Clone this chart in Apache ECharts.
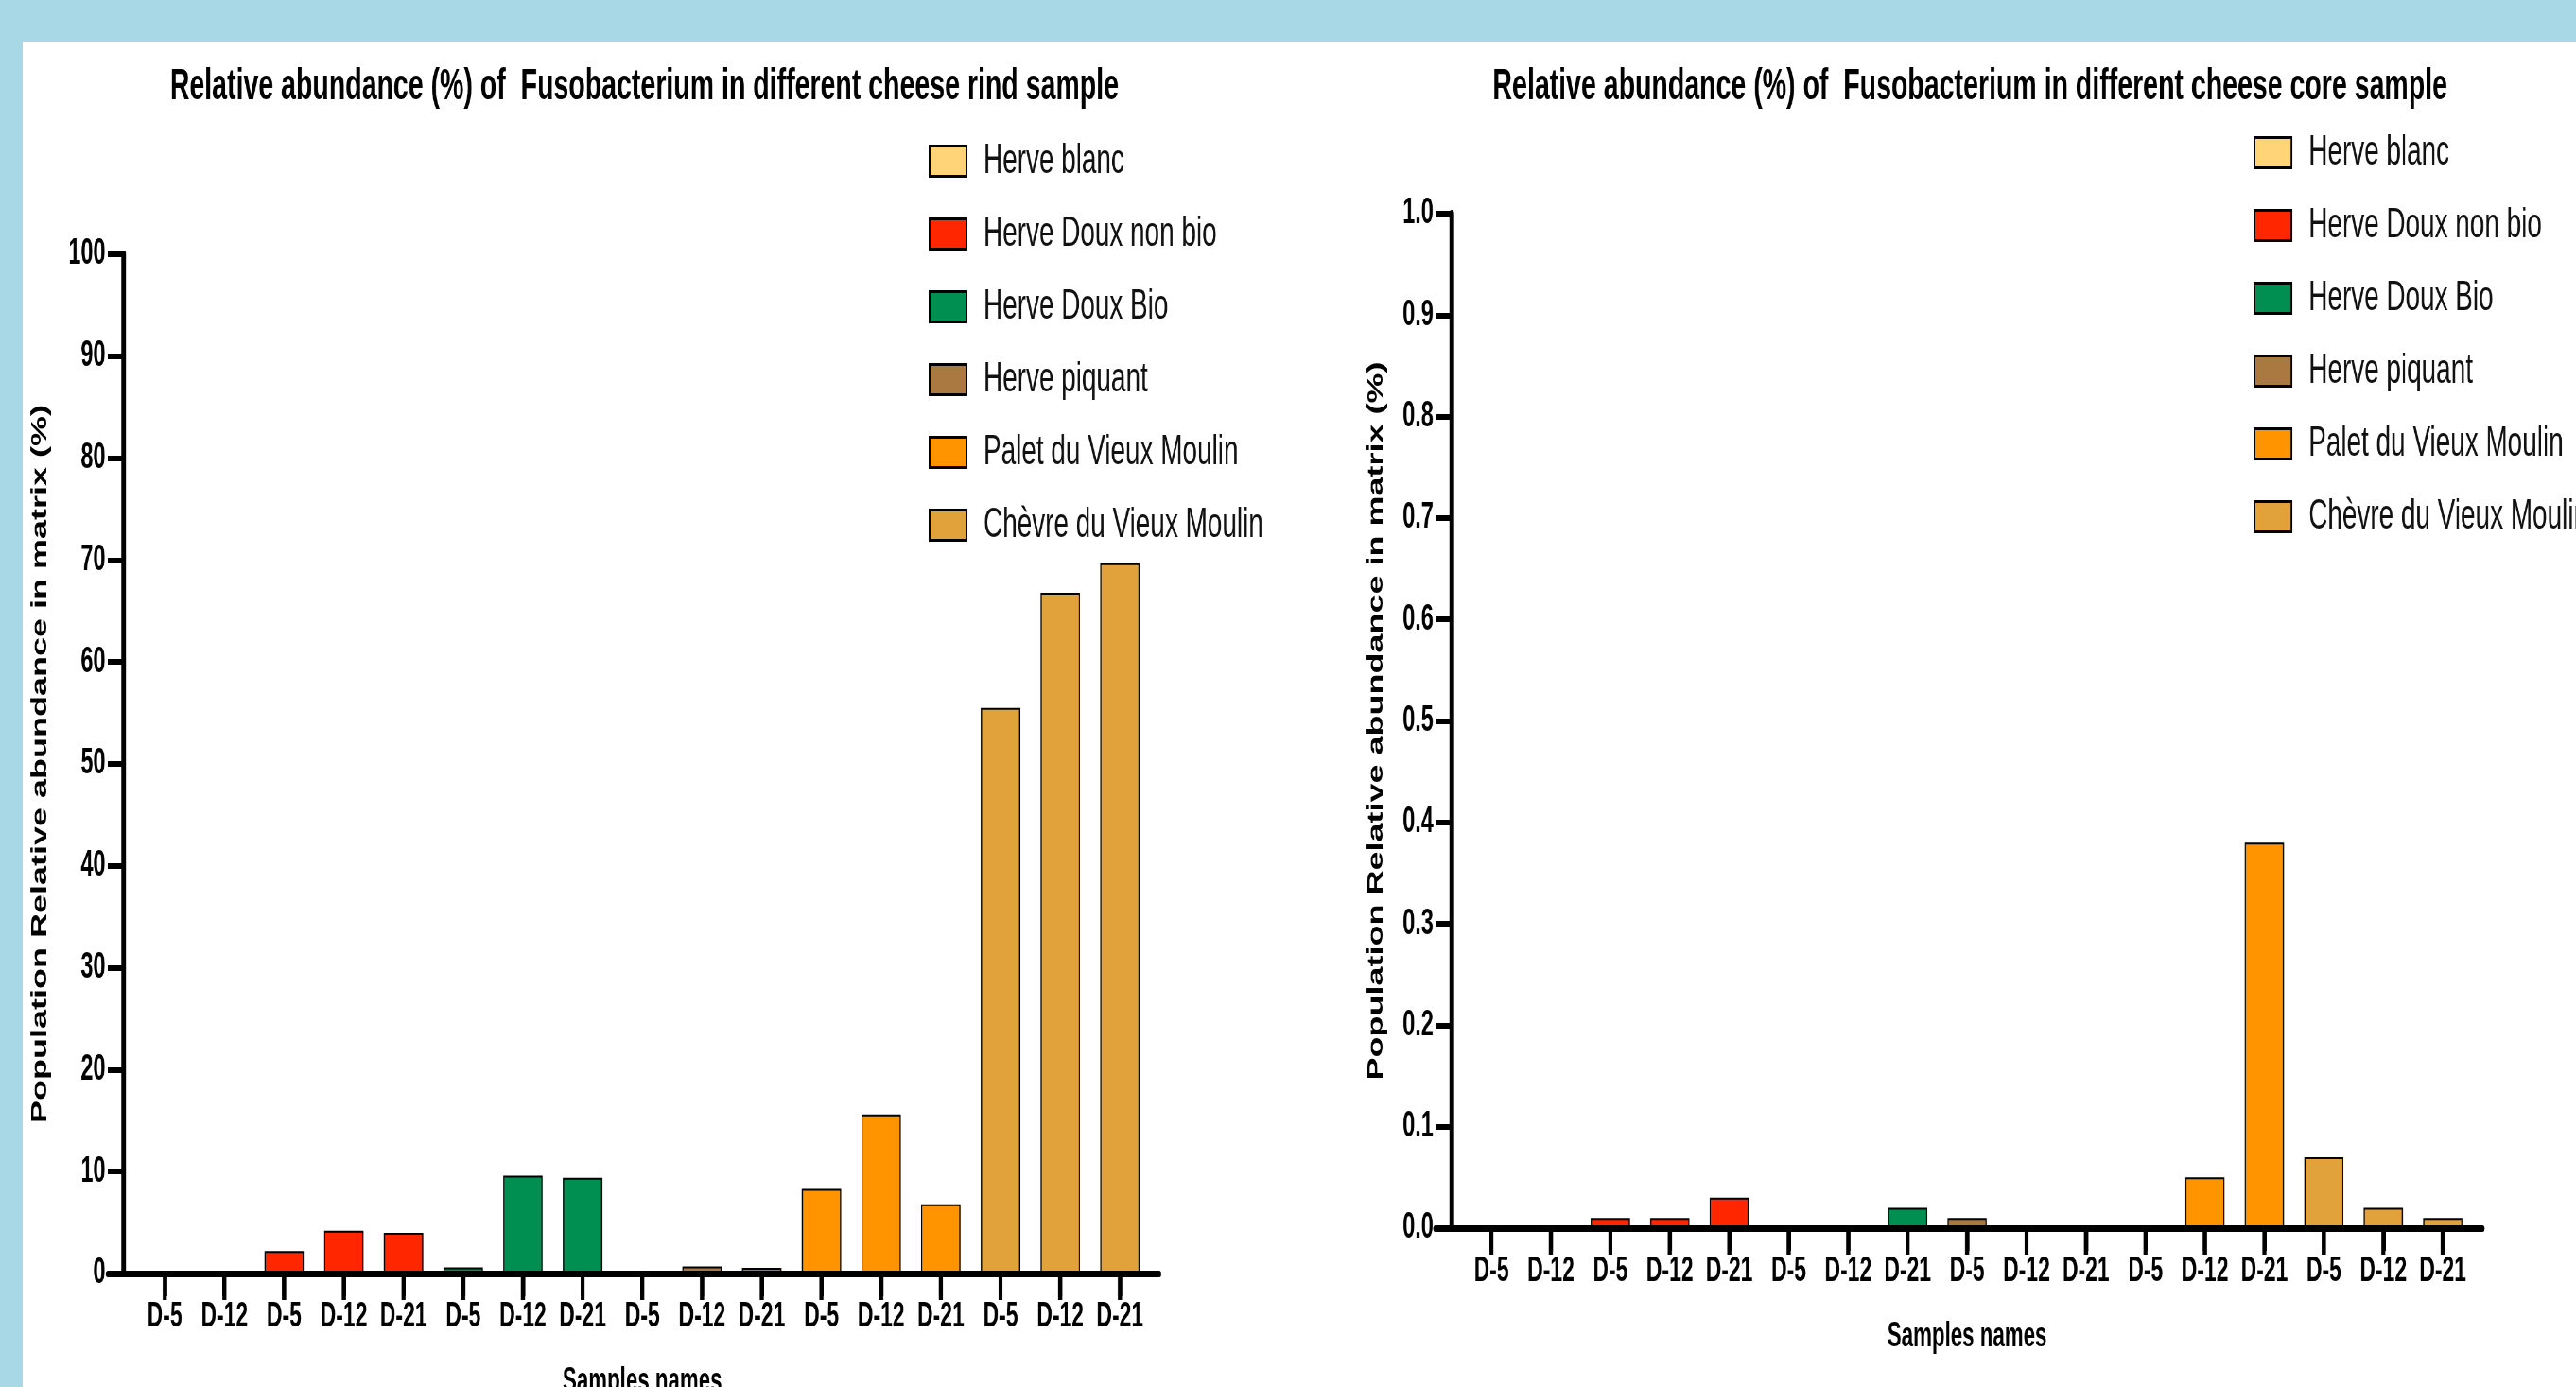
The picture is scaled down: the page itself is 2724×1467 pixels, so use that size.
<!DOCTYPE html>
<html>
<head>
<meta charset="utf-8">
<script src="https://cdn.jsdelivr.net/npm/echarts@6/dist/echarts.min.js"></script>
<style>
html, body { margin: 0; padding: 0; width: 2724px; height: 1467px; overflow: hidden; background: #a8d7e5; }
#panel { position: absolute; left: 24px; top: 44px; right: 0; bottom: 0; background: #fff; }
/* the source figure is squeezed sideways, so draw wide and squeeze it the same way */
#chart { position: absolute; left: 0; top: 0; width: 4394px; height: 1467px; transform: scaleX(0.62); transform-origin: 0 0; }
</style>
</head>
<body>
<div id="panel"></div>
<div id="chart"></div>
<script>
var cheeses = ['Herve blanc', 'Herve Doux non bio', 'Herve Doux Bio', 'Herve piquant', 'Palet du Vieux Moulin', 'Chèvre du Vieux Moulin'];
var colors = ['#ffd479', '#ff2600', '#008f51', '#aa7942', '#ff9300', '#e1a23b'];
var days = ['D-5', 'D-12', 'D-5', 'D-12', 'D-21', 'D-5', 'D-12', 'D-21', 'D-5', 'D-12', 'D-21', 'D-5', 'D-12', 'D-21', 'D-5', 'D-12', 'D-21'];
var cheeseOfDay = [0, 0, 1, 1, 1, 2, 2, 2, 3, 3, 3, 4, 4, 4, 5, 5, 5];
var rind = [0, 0, 2.2, 4.2, 4.0, 0.6, 9.6, 9.4, 0, 0.7, 0.55, 8.3, 15.6, 6.8, 55.5, 66.8, 69.7];
var core = [0, 0, 0.01, 0.01, 0.03, 0, 0, 0.02, 0.01, 0, 0, 0, 0.05, 0.38, 0.07, 0.02, 0.01];

var font = "'Liberation Sans', Arial, sans-serif";
var chart = echarts.init(document.getElementById('chart'));

function barSeries(values, axisIdx) {
    return cheeses.map(function (name, k) {
        return {
            name: name,
            type: 'bar',
            xAxisIndex: axisIdx,
            yAxisIndex: axisIdx,
            stack: 'g' + axisIdx,
            barWidth: '66%',
            itemStyle: { color: colors[k], borderColor: '#000', borderWidth: 2 },
            data: values.map(function (v, i) { return cheeseOfDay[i] === k ? v : '-'; })
        };
    });
}

function catAxis(gi) {
    return {
        gridIndex: gi, type: 'category', data: days, position: 'bottom',
        axisLine: { show: true, onZero: false, lineStyle: { color: '#000', width: 7 } },
        axisTick: { show: true, alignWithLabel: true, length: 24, lineStyle: { width: 7, color: '#000' } },
        axisLabel: { interval: 0, margin: 27, fontSize: 37, fontWeight: 'bold', color: '#000', fontFamily: font },
        name: 'Samples names', nameLocation: 'middle', nameGap: 97,
        nameTextStyle: { fontSize: 36, fontWeight: 'bold', color: '#000', fontFamily: font }
    };
}

// longer baseline that runs past the y axis, as in the figure
function lineAxis(gi) {
    return {
        gridIndex: gi, type: 'value', z: 10,
        axisLine: { show: true, onZero: false, lineStyle: { width: 7, color: '#000' } },
        axisTick: { show: false }, axisLabel: { show: false }, splitLine: { show: false }
    };
}

function valAxis(gi, max, interval, offset, gap, fmt) {
    return {
        gridIndex: gi, type: 'value', min: 0, max: max, interval: interval, offset: offset,
        axisLine: { show: true, onZero: false, lineStyle: { width: 8, color: '#000' } },
        axisTick: { show: true, length: 27, lineStyle: { width: 6, color: '#000' } },
        axisLabel: { margin: 31, fontSize: 38, fontWeight: 'bold', color: '#000', fontFamily: font, formatter: fmt },
        splitLine: { show: false },
        name: 'Population Relative abundance in matrix (%)', nameLocation: 'middle', nameGap: gap, nameRotate: 90,
        nameTextStyle: { fontSize: 36, fontWeight: 'bold', color: '#000', fontFamily: font }
    };
}

function legend(left, top) {
    return {
        orient: 'vertical', left: left, top: top, data: cheeses, selectedMode: false,
        icon: 'rect', itemWidth: 63, itemHeight: 32, itemGap: 32,
        itemStyle: { borderColor: '#000', borderWidth: 3 },
        textStyle: { fontSize: 45, lineHeight: 44, color: '#111', fontFamily: font, padding: [0, 0, 0, 24] }
    };
}

var titleStyle = { fontSize: 46, fontWeight: 'bold', color: '#000', fontFamily: font };

chart.setOption({
    animation: false,
    title: [
        { text: 'Relative abundance (%) of  Fusobacterium in different cheese rind sample', left: 1094, top: 64, textAlign: 'center', textStyle: titleStyle },
        { text: 'Relative abundance (%) of  Fusobacterium in different cheese core sample', left: 3355, top: 64, textAlign: 'center', textStyle: titleStyle }
    ],
    legend: [legend(1579, 143), legend(3839, 134)],
    grid: [
        { left: 230, top: 269, width: 1731, height: 1078, outerBoundsMode: 'none' },
        { left: 184, top: 269, width: 1793, height: 1078, outerBoundsMode: 'none' },
        { left: 2493, top: 226, width: 1724, height: 1073, outerBoundsMode: 'none' },
        { left: 2448, top: 226, width: 1786, height: 1073, outerBoundsMode: 'none' }
    ],
    xAxis: [catAxis(0), lineAxis(1), catAxis(2), lineAxis(3)],
    yAxis: [
        valAxis(0, 100, 10, 19, 124, function (v) { return v; }),
        { gridIndex: 1, type: 'value', show: false, min: 0, max: 1 },
        valAxis(2, 1, 0.1, 17, 110, function (v) { return v.toFixed(1); }),
        { gridIndex: 3, type: 'value', show: false, min: 0, max: 1 }
    ],
    series: barSeries(rind, 0).concat(barSeries(core, 2))
});

// the axis ticks under the samples don't come out, so place them
// from the axes' own scales: one short stroke under each sample
function tickMarks(axisIdx) {
    var y0 = chart.convertToPixel({ yAxisIndex: axisIdx }, 0);
    return days.map(function (d, i) {
        var x = chart.convertToPixel({ xAxisIndex: axisIdx }, i);
        return {
            type: 'line', z: 20, silent: true,
            shape: { x1: x, y1: y0, x2: x, y2: y0 + 28 },
            style: { stroke: '#000', lineWidth: 7 }
        };
    });
}

chart.setOption({ graphic: tickMarks(0).concat(tickMarks(2)) });
</script>
</body>
</html>
